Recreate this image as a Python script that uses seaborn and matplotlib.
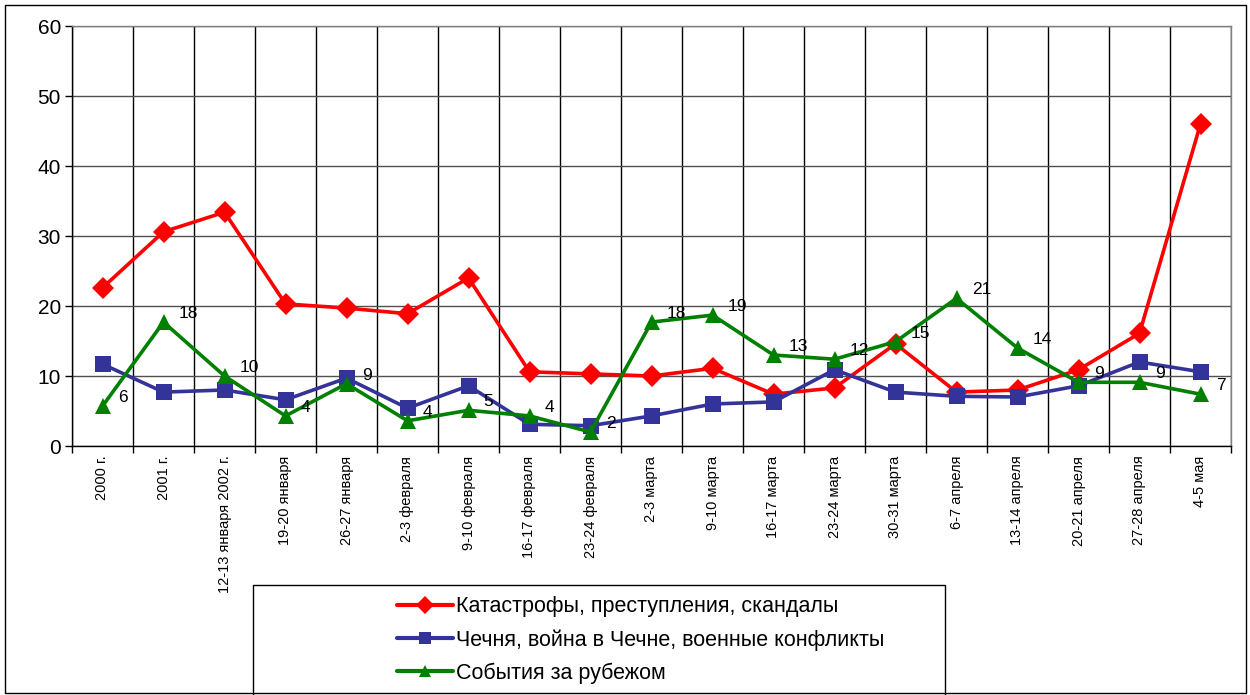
import numpy as np
import pandas as pd
import matplotlib
matplotlib.use("Agg")
import matplotlib.pyplot as plt
from matplotlib.patches import Rectangle
from matplotlib.ticker import FixedLocator
import seaborn as sns

periods = [
    "2000 г.", "2001 г.", "12-13 января 2002 г.", "19-20 января", "26-27 января",
    "2-3 февраля", "9-10 февраля", "16-17 февраля", "23-24 февраля", "2-3 марта",
    "9-10 марта", "16-17 марта", "23-24 марта", "30-31 марта", "6-7 апреля",
    "13-14 апреля", "20-21 апреля", "27-28 апреля", "4-5 мая",
]

disasters = [22.6, 30.6, 33.4, 20.3, 19.7, 18.9, 24.0, 10.6, 10.3, 10.0,
             11.1, 7.4, 8.3, 14.6, 7.7, 8.0, 10.9, 16.1, 46.0]
chechnya = [11.7, 7.7, 8.0, 6.6, 9.7, 5.4, 8.6, 3.1, 2.9, 4.3,
            6.0, 6.3, 10.9, 7.7, 7.1, 7.0, 8.6, 12.0, 10.6]
abroad = [5.7, 17.7, 10.0, 4.3, 8.9, 3.6, 5.1, 4.3, 2.0, 17.7,
          18.7, 13.0, 12.4, 14.9, 21.1, 14.0, 9.1, 9.1, 7.4]

series_names = [
    "Катастрофы, преступления, скандалы",
    "Чечня, война в Чечне, военные конфликты",
    "События за рубежом",
]

df = pd.DataFrame({
    "pos": list(range(len(periods))) * 3,
    "value": disasters + chechnya + abroad,
    "series": [series_names[0]] * len(periods)
    + [series_names[1]] * len(periods)
    + [series_names[2]] * len(periods),
})

sns.set_theme(style="white")
plt.rcParams["font.family"] = ["Liberation Sans", "DejaVu Sans"]
plt.rcParams["text.color"] = "black"
plt.rcParams["xtick.color"] = "black"
plt.rcParams["ytick.color"] = "black"

palette = {series_names[0]: "#FF0000", series_names[1]: "#333399", series_names[2]: "#008000"}
markers = {series_names[0]: "D", series_names[1]: "s", series_names[2]: "^"}

fig = plt.figure(figsize=(12.5, 6.95), dpi=100)
fig.patch.set_facecolor("white")
ax = fig.add_axes([72 / 1250, 1 - 446 / 695, (1231 - 72) / 1250, (446 - 26) / 695])

sns.lineplot(
    data=df, x="pos", y="value", hue="series", style="series",
    palette=palette, markers=markers, dashes=False, linewidth=2.6,
    markersize=11, markeredgewidth=0, ax=ax, legend=True,
)

# data labels for the abroad series
for i, v in enumerate(abroad):
    ax.annotate(str(int(round(v))), (i, v), xytext=(11, 6), textcoords="offset points",
                ha="left", va="center", fontsize=12.5, color="black")

n = len(periods)
ax.set_xlim(-0.5, n - 0.5)
ax.set_ylim(0, 60)
ax.set_yticks(range(0, 61, 10))
ax.tick_params(axis="y", labelsize=15, length=5, width=1, color="black", labelcolor="black",
               direction="out", left=True, pad=3)

ax.xaxis.set_major_locator(FixedLocator(list(range(n))))
ax.set_xticklabels(periods, rotation=90, fontsize=10.5, va="top", ha="center", color="black")
ax.xaxis.set_minor_locator(FixedLocator([i + 0.5 for i in range(-1, n)]))
ax.tick_params(axis="x", which="major", length=0, pad=7)
ax.tick_params(axis="x", which="minor", length=5, width=1, color="black", bottom=True, direction="out")

ax.grid(True, axis="y", color="#505050", linewidth=1)
ax.grid(True, axis="x", which="minor", color="black", linewidth=1)
ax.set_axisbelow(True)

ax.set_xlabel("")
ax.set_ylabel("")
ax.spines["left"].set_color("black")
ax.spines["bottom"].set_color("black")
ax.spines["top"].set_color("#808080")
ax.spines["right"].set_color("#808080")
for s in ax.spines.values():
    s.set_linewidth(1)

handles, labels = ax.get_legend_handles_labels()
ax.get_legend().remove()
for h in handles:
    h.set_linewidth(3)
    h.set_markersize(9)

# legend frame (extends below the figure edge like the original)
fig.patches.append(Rectangle((253 / 1250, -0.02), (945 - 253) / 1250, (1 - 585 / 695) + 0.02,
                             transform=fig.transFigure, fill=False, edgecolor="black", linewidth=1))
fig.legend(handles, labels, loc="upper left", bbox_to_anchor=(378 / 1250, 1 - 577 / 695),
           frameon=False, fontsize=15.5, handlelength=2.6, handletextpad=0.1, labelspacing=0.55)

# outer chart border
fig.patches.append(Rectangle((5 / 1250, 2 / 695), 1241 / 1250, 688 / 695,
                             transform=fig.transFigure, fill=False, edgecolor="black", linewidth=1))

fig.savefig("out.png", dpi=100)
